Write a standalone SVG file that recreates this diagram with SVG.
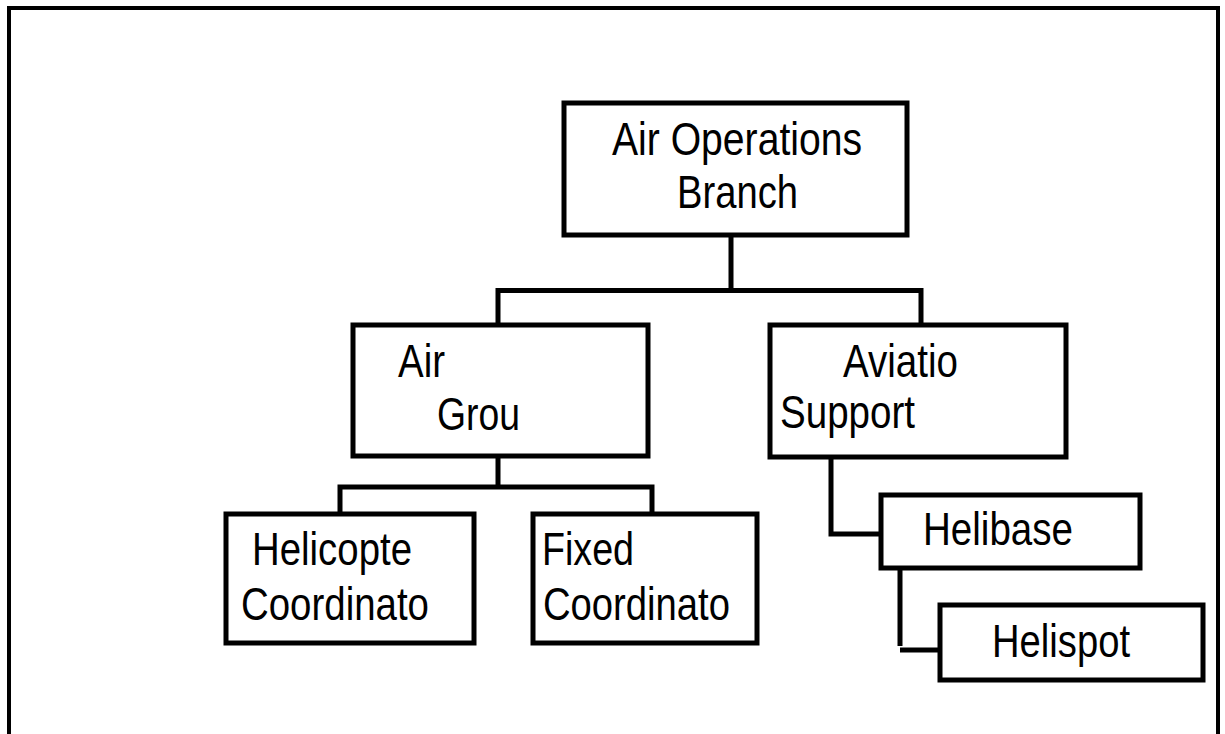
<svg xmlns="http://www.w3.org/2000/svg" width="1225" height="734" viewBox="0 0 1225 734">
<style>
.box{fill:#fff;stroke:#000;stroke-width:5}
.ln{fill:none;stroke:#000;stroke-width:5}
text{font-family:"Liberation Sans",Arial,sans-serif;font-size:46px;fill:#000}
</style>
<rect x="0" y="0" width="1225" height="734" fill="#fff"/>
<rect x="9" y="8" width="1209" height="800" fill="none" stroke="#000" stroke-width="4"/>
<g id="connectors">
<path class="ln" d="M731,235 V290.5 M498,323 V290.5 H921 V323"/>
<path class="ln" d="M498,457 V487 M340,514 V487 H652 V514"/>
<path class="ln" d="M831,457 V534 H881"/>
<path class="ln" d="M900,568 V646 M900,650 H940"/>
</g>
<g id="air-operations-branch">
<rect class="box" x="564" y="103" width="343" height="132"/>
<text x="612" y="155" textLength="250" lengthAdjust="spacingAndGlyphs">Air Operations</text>
<text x="677" y="208" textLength="121" lengthAdjust="spacingAndGlyphs">Branch</text>
</g>
<g id="air-group">
<rect class="box" x="353" y="325" width="295" height="131"/>
<text x="398" y="377" textLength="47" lengthAdjust="spacingAndGlyphs">Air</text>
<text x="437" y="430" textLength="83" lengthAdjust="spacingAndGlyphs">Grou</text>
</g>
<g id="aviation-support">
<rect class="box" x="770" y="325" width="296" height="132"/>
<text x="843" y="377" textLength="115" lengthAdjust="spacingAndGlyphs">Aviatio</text>
<text x="780" y="428" textLength="135" lengthAdjust="spacingAndGlyphs">Support</text>
</g>
<g id="helicopter-coordinator">
<rect class="box" x="226" y="514" width="248" height="129"/>
<text x="252" y="565" textLength="160" lengthAdjust="spacingAndGlyphs">Helicopte</text>
<text x="241" y="620" textLength="188" lengthAdjust="spacingAndGlyphs">Coordinato</text>
</g>
<g id="fixed-coordinator">
<rect class="box" x="533" y="514" width="224" height="129"/>
<text x="542" y="565" textLength="92" lengthAdjust="spacingAndGlyphs">Fixed</text>
<text x="543" y="620" textLength="187" lengthAdjust="spacingAndGlyphs">Coordinato</text>
</g>
<g id="helibase">
<rect class="box" x="881" y="495" width="259" height="73"/>
<text x="923" y="545" textLength="150" lengthAdjust="spacingAndGlyphs">Helibase</text>
</g>
<g id="helispot">
<rect class="box" x="940" y="605" width="263" height="75"/>
<text x="992" y="657" textLength="138" lengthAdjust="spacingAndGlyphs">Helispot</text>
</g>
</svg>
